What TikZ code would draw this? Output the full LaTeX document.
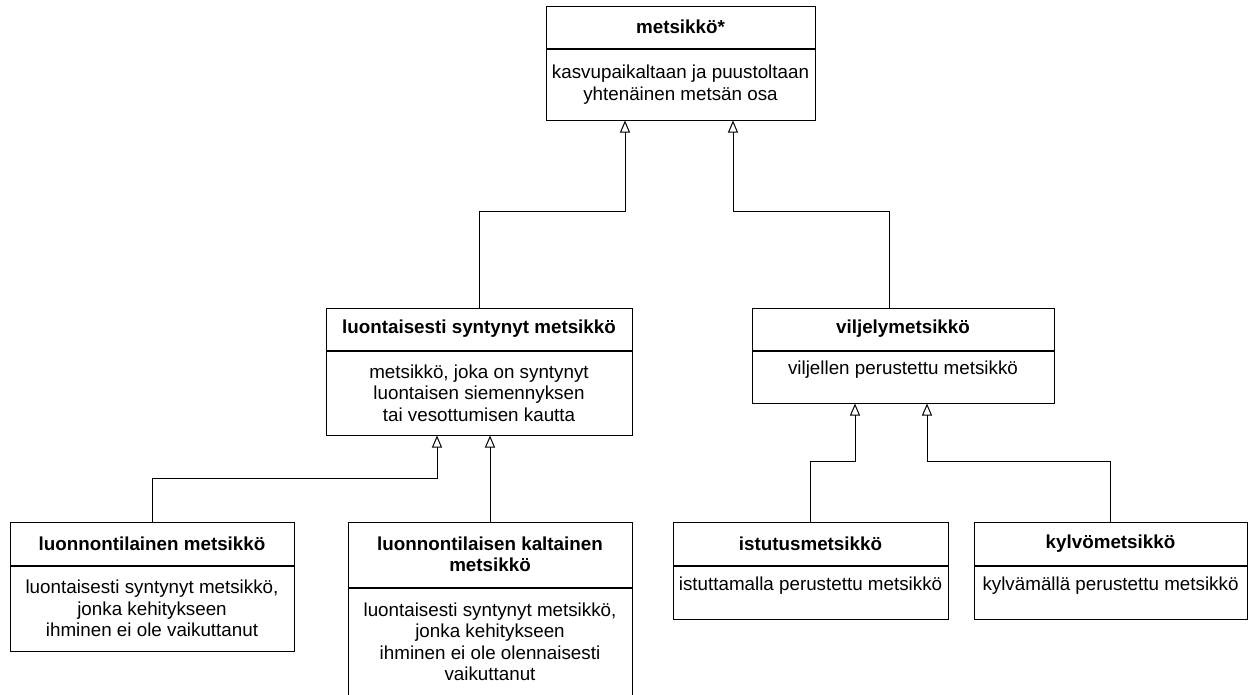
\documentclass[tikz,border=0pt]{standalone}
\usepackage{fontspec}
\setmainfont{Liberation Sans}
\usetikzlibrary{arrows.meta,positioning}

\begin{document}
\begin{tikzpicture}[x=1pt, y=1pt, every node/.style={font=\fontsize{18.8}{21.5}\selectfont}, head/.style={draw, line width=1pt, font=\fontsize{18.8}{21.5}\selectfont\bfseries, align=center, inner sep=0pt, minimum height=42pt}, body/.style={draw, line width=1pt, align=center, inner sep=0pt}, oneline/.style={text depth=18pt}, inh/.style={line width=1pt, -{Triangle[open, length=12pt, width=10pt]}}]
	\useasboundingbox (0,0) rectangle (1248,-694);
	\node[head, minimum width=269pt] (top) at (680.5,-27) {metsikkö*};
	\node[body, minimum width=269pt, minimum height=71pt, below=0pt of top] (topb) {kasvupaikaltaan ja puustoltaan\\ yhtenäinen metsän osa};
	\node[head, minimum width=306pt] (luo) at (479,-329) {luontaisesti syntynyt metsikkö};
	\node[body, minimum width=306pt, minimum height=84pt, below=0pt of luo] (luob) {metsikkö, joka on syntynyt\\ luontaisen siemennyksen\\ tai vesottumisen kautta};
	\node[head, minimum width=302pt] (vil) at (903,-329) {viljelymetsikkö};
	\node[body, oneline, minimum width=302pt, minimum height=52pt, below=0pt of vil] (vilb) {viljellen perustettu metsikkö};
	\node[head, minimum width=284pt, minimum height=43pt] (nat) at (152,-543.5) {luonnontilainen metsikkö};
	\node[body, minimum width=284pt, minimum height=85pt, below=0pt of nat] (natb) {luontaisesti syntynyt metsikkö,\\ jonka kehitykseen\\ ihminen ei ole vaikuttanut};
	\node[head, minimum width=284pt, minimum height=65pt] (kal) at (490,-554.5) {luonnontilaisen kaltainen\\ metsikkö};
	\node[body, minimum width=284pt, minimum height=108pt, below=0pt of kal] (kalb) {luontaisesti syntynyt metsikkö,\\ jonka kehitykseen\\ ihminen ei ole olennaisesti\\ vaikuttanut};
	\node[head, minimum width=275pt, minimum height=43pt] (ist) at (810.5,-543.5) {istutusmetsikkö};
	\node[body, oneline, minimum width=275pt, minimum height=53pt, below=0pt of ist] (istb) {istuttamalla perustettu metsikkö};
	\node[head, minimum width=273pt, minimum height=43pt] (kyl) at (1110.5,-543.5) {kylvömetsikkö};
	\node[body, oneline, minimum width=273pt, minimum height=53pt, below=0pt of kyl] (kylb) {kylvämällä perustettu metsikkö};
	\draw[inh] (luo.north) -- ++(0,96) -| ([xshift=-55.5pt]topb.south);
	\draw[inh] ([xshift=-14pt]vil.north) -- ++(0,96) -| ([xshift=52.5pt]topb.south);
	\draw[inh] (nat.north) -- ++(0,43) -| ([xshift=-42pt]luob.south);
	\draw[inh] (kal.north) -- ([xshift=11pt]luob.south);
	\draw[inh] (ist.north) -- ++(0,60) -| ([xshift=-48pt]vilb.south);
	\draw[inh] (kyl.north) -- ++(0,60) -| ([xshift=24pt]vilb.south);
\end{tikzpicture}
\end{document}
